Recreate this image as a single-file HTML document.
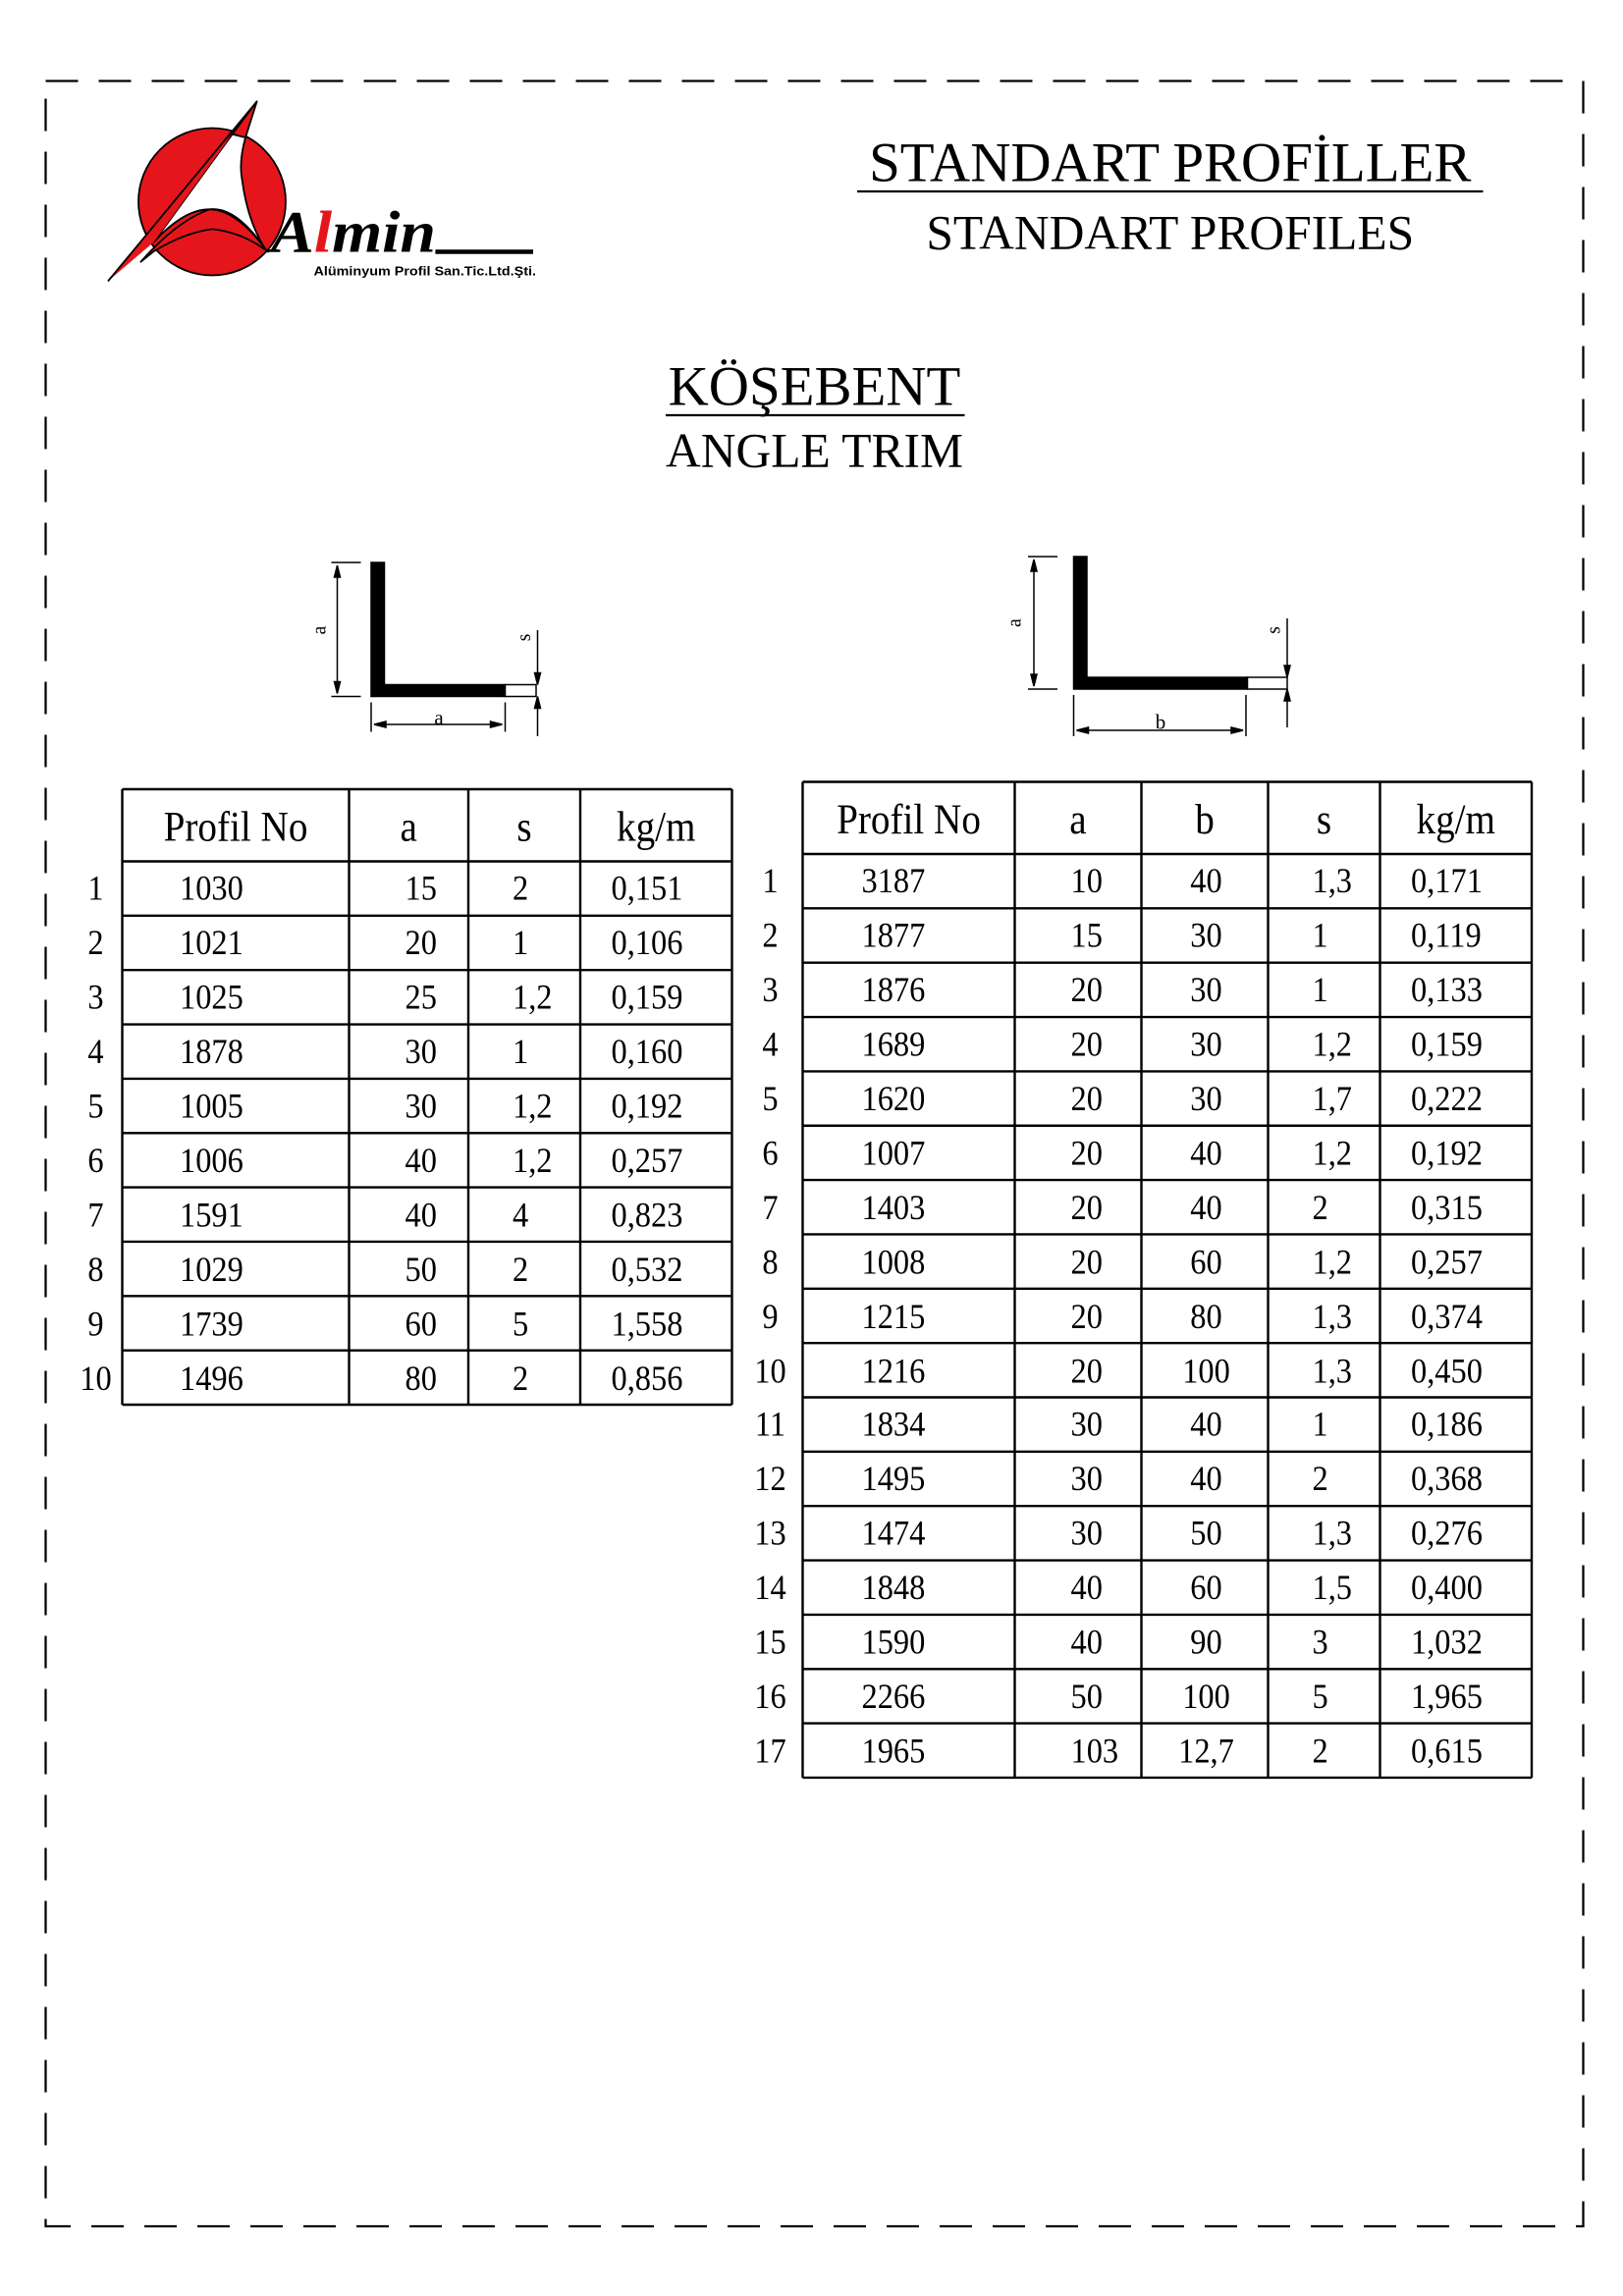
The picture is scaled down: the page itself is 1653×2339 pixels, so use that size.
<!DOCTYPE html>
<html><head><meta charset="utf-8">
<style>
html,body{margin:0;padding:0;background:#fff;}
#page{width:1653px;height:2339px;position:relative;overflow:hidden;background:#fff;}
#d{position:absolute;left:0;top:0;width:1102px;height:1559.33px;transform:scale(1.5);transform-origin:0 0;font-family:"Liberation Serif",serif;color:#000;}
.t{position:absolute;white-space:nowrap;line-height:1;}
.cell{position:absolute;font-size:24px;white-space:nowrap;transform:scaleX(0.9);transform-origin:left center;}
.hd{font-size:29px;}
</style></head>
<body>
<div id="page">
<div id="d">
<svg width="1102" height="1560" style="position:absolute;left:0;top:0">
  <rect x="31" y="55" width="1044" height="1457" fill="none" stroke="#000" stroke-width="1.5" stroke-dasharray="22,14"/>
  <g stroke="#000" stroke-width="1.2" stroke-linejoin="round">
    <circle cx="144" cy="137" r="50" fill="#e4161b"/>
    <path d="M157.8 91.1 L166.7 93.3 Q162 110 164.4 122.2 Q168 150 180 168.9 Q160 140 142.2 142.2 Q125 142 104.4 164.4 Z" fill="#fff"/>
    <path d="M157.8 91.1 L174.4 68.9 L166.7 93.3 Z" fill="#e4161b"/>
    <path d="M157.8 91.1 L73.3 191 L104.4 164.4 Z" fill="#e4161b" stroke="none"/>
    <line x1="174.4" y1="68.9" x2="73.3" y2="191"/>
    <path d="M95.6 177.8 Q120 150 142.2 142.2 Q160 142 180 168.9 L182 171 Q165 158 144.4 155.6 Q125 158 104 171 Z" fill="#e4161b"/>
    <line x1="295.6" y1="171" x2="362" y2="171" stroke-width="3"/>
  </g>
  <text x="184" y="171" font-family="Liberation Serif" font-weight="bold" font-style="italic" font-size="40" textLength="112" lengthAdjust="spacingAndGlyphs">A<tspan fill="#e4161b">l</tspan>min</text>
  <text x="213" y="187" font-family="Liberation Sans" font-weight="bold" font-size="8.5" textLength="151" lengthAdjust="spacingAndGlyphs">Alüminyum Profil San.Tic.Ltd.Şti.</text>
  <line x1="582" y1="130" x2="1007" y2="130" stroke="#000" stroke-width="1.5"/>
  <line x1="452" y1="282" x2="655" y2="282" stroke="#000" stroke-width="1.5"/>
  <g stroke="#000" fill="none" stroke-width="1">
    <path d="M252 382 H261 V465 H343 V473 H252 Z" fill="#000"/>
    <rect x="343" y="465" width="21" height="8" fill="#fff"/>
    <line x1="225" y1="382" x2="245" y2="382"/><line x1="225" y1="473" x2="245" y2="473"/>
    <line x1="229" y1="384" x2="229" y2="471"/>
    <path d="M229 384 l-2 8 h4 Z M229 471 l-2 -8 h4 Z" fill="#000"/>
    <line x1="252" y1="477" x2="252" y2="497"/><line x1="343" y1="477" x2="343" y2="497"/>
    <line x1="254" y1="492" x2="341" y2="492"/>
    <path d="M254 492 l8 -2 v4 Z M341 492 l-8 -2 v4 Z" fill="#000"/>
    <line x1="365" y1="428" x2="365" y2="465"/><line x1="365" y1="473" x2="365" y2="500"/>
    <path d="M365 465 l-2 -8 h4 Z M365 473 l-2 8 h4 Z" fill="#000"/>
  </g>
  <g stroke="#000" fill="none" stroke-width="1">
    <path d="M729 378 H738 V460 H847 V468 H729 Z" fill="#000"/>
    <rect x="847" y="460" width="27" height="8" fill="#fff"/>
    <line x1="698" y1="378" x2="718" y2="378"/><line x1="698" y1="468" x2="718" y2="468"/>
    <line x1="702" y1="380" x2="702" y2="466"/>
    <path d="M702 380 l-2 8 h4 Z M702 466 l-2 -8 h4 Z" fill="#000"/>
    <line x1="729" y1="472" x2="729" y2="500"/><line x1="846" y1="472" x2="846" y2="500"/>
    <line x1="731" y1="496" x2="844" y2="496"/>
    <path d="M731 496 l8 -2 v4 Z M844 496 l-8 -2 v4 Z" fill="#000"/>
    <line x1="874" y1="420" x2="874" y2="460"/><line x1="874" y1="468" x2="874" y2="494"/>
    <path d="M874 460 l-2 -8 h4 Z M874 468 l-2 8 h4 Z" fill="#000"/>
  </g>
  <text x="221" y="428" font-family="Liberation Serif" font-size="13" transform="rotate(-90 221 428)" text-anchor="middle">a</text>
  <text x="298" y="492" font-family="Liberation Serif" font-size="14" text-anchor="middle">a</text>
  <text x="360" y="433" font-family="Liberation Serif" font-size="13" transform="rotate(-90 360 433)" text-anchor="middle">s</text>
  <text x="693" y="423" font-family="Liberation Serif" font-size="13" transform="rotate(-90 693 423)" text-anchor="middle">a</text>
  <text x="788" y="495" font-family="Liberation Serif" font-size="14" text-anchor="middle">b</text>
  <text x="869" y="428" font-family="Liberation Serif" font-size="13" transform="rotate(-90 869 428)" text-anchor="middle">s</text>
  <g id="tables"></g>
</svg>
<div class="t" style="left:582px;top:92px;width:425px;text-align:center;font-size:38px;">STANDART PROFİLLER</div>
<div class="t" style="left:582px;top:143px;width:425px;text-align:center;font-size:33px;">STANDART PROFILES</div>
<div class="t" style="left:430px;top:244px;width:246px;text-align:center;font-size:38px;">KÖŞEBENT</div>
<div class="t" style="left:420px;top:291px;width:266px;text-align:center;font-size:33px;">ANGLE TRIM</div>
<div id="cells"></div>
</div>
</div>
<script>
const leftNo=["1030","1021","1025","1878","1005","1006","1591","1029","1739","1496"];
const leftA=["15","20","25","30","30","40","40","50","60","80"];
const leftS=["2","1","1,2","1","1,2","1,2","4","2","5","2"];
const leftKg=["0,151","0,106","0,159","0,160","0,192","0,257","0,823","0,532","1,558","0,856"];
const rightNo=["3187","1877","1876","1689","1620","1007","1403","1008","1215","1216","1834","1495","1474","1848","1590","2266","1965"];
const rightA=["10","15","20","20","20","20","20","20","20","20","30","30","30","40","40","50","103"];
const rightB=["40","30","30","30","30","40","40","60","80","100","40","40","50","60","90","100","12,7"];
const rightS=["1,3","1","1","1,2","1,7","1,2","2","1,2","1,3","1,3","1","2","1,3","1,5","3","5","2"];
const rightKg=["0,171","0,119","0,133","0,159","0,222","0,192","0,315","0,257","0,374","0,450","0,186","0,368","0,276","0,400","1,032","1,965","0,615"];
const NS="http://www.w3.org/2000/svg";
const tg=document.getElementById('tables');
const cells=document.getElementById('cells');
function line(x1,y1,x2,y2,name){
  const l=document.createElementNS(NS,'line');
  l.setAttribute('x1',x1);l.setAttribute('y1',y1);l.setAttribute('x2',x2);l.setAttribute('y2',y2);
  l.setAttribute('stroke','#000');l.setAttribute('stroke-width','1.6');
  
  
  tg.appendChild(l);
}
function text(str,x,y,align,cls,name,w){
  const d=document.createElement('div');
  d.className='cell'+(cls?' '+cls:'');
  d.textContent=str;
  d.style.top=(y-14)+'px';
  d.style.lineHeight='28px';
  if(align==='c'){d.style.left=(x-w/2)+'px';d.style.width=w+'px';d.style.textAlign='center';d.style.transformOrigin='center center';}
  else d.style.left=x+'px';
  
  
  cells.appendChild(d);
}
function table(tname,cols,top,hdrH,rowH,headers,columns,pos,numX){
  const n=columns[0].length;
  const bottom=top+hdrH+n*rowH;
  line(cols[0],top,cols[cols.length-1],top,tname+'-top-border');
  line(cols[0],top+hdrH,cols[cols.length-1],top+hdrH,tname+'-header-border');
  for(let i=1;i<=n;i++) line(cols[0],top+hdrH+i*rowH,cols[cols.length-1],top+hdrH+i*rowH,tname+'-row-border');
  cols.forEach(c=>line(c,top,c,bottom,tname+'-column-border'));
  headers.forEach((h,j)=>text(h,(cols[j]+cols[j+1])/2,top+hdrH/2+1,'c','hd',tname+'-header-'+h.toLowerCase().replace(/[^a-z]/g,''),cols[j+1]-cols[j]));
  for(let i=0;i<n;i++){
    const cy=top+hdrH+i*rowH+rowH/2+1;
    text(String(i+1),numX,cy,'c','',tname+'-row-number',30);
    columns.forEach((col,j)=>{
      const p=pos[j];
      if(p.c) text(col[i],p.x,cy,'c','',tname+'-cell',60);
      else text(col[i],p.x,cy,'l','',tname+'-cell');
    });
  }
}
table('left-table',[83,237,318,394,497],536,49,36.9,["Profil No","a","s","kg/m"],
  [leftNo,leftA,leftS,leftKg],[{x:122},{x:275},{x:348},{x:415}],65);
table('right-table',[545,689,775,861,937,1040],531,49,36.9,["Profil No","a","b","s","kg/m"],
  [rightNo,rightA,rightB,rightS,rightKg],[{x:585},{x:727},{x:819,c:1},{x:891},{x:958}],523);
</script>
</body></html>
